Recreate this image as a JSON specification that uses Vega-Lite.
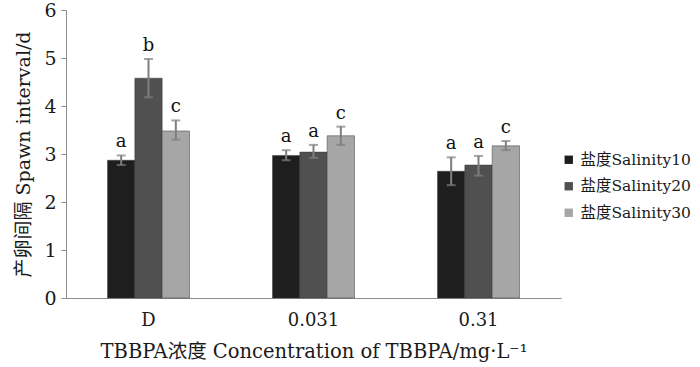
{
  "$schema": "https://vega.github.io/schema/vega-lite/v6.json",
  "autosize": "none",
  "width": 495,
  "height": 288,
  "padding": {"left": 66, "top": 10, "right": 139, "bottom": 69},
  "config": {
    "font": "DejaVu Serif, Noto Sans CJK SC",
    "view": {"stroke": null},
    "axis": {"grid": false, "domainColor": "#8c8c8c", "tickColor": "#8c8c8c", "labelColor": "#1a1a1a", "titleColor": "#1a1a1a", "labelFont": "DejaVu Serif", "titleFont": "DejaVu Serif, Noto Sans CJK SC", "titleFontWeight": "normal"},
    "legend": {"labelFont": "DejaVu Serif, Noto Sans CJK SC"},
    "text": {"font": "DejaVu Serif"}
  },
  "data": {
    "values": [
      {"conc": "D", "salinity": "盐度Salinity10", "mean": 2.87, "lo": 2.77, "hi": 2.97, "letter": "a"},
      {"conc": "D", "salinity": "盐度Salinity20", "mean": 4.58, "lo": 4.18, "hi": 4.98, "letter": "b"},
      {"conc": "D", "salinity": "盐度Salinity30", "mean": 3.48, "lo": 3.3, "hi": 3.7, "letter": "c"},
      {"conc": "0.031", "salinity": "盐度Salinity10", "mean": 2.97, "lo": 2.87, "hi": 3.08, "letter": "a"},
      {"conc": "0.031", "salinity": "盐度Salinity20", "mean": 3.04, "lo": 2.92, "hi": 3.19, "letter": "a"},
      {"conc": "0.031", "salinity": "盐度Salinity30", "mean": 3.38, "lo": 3.19, "hi": 3.57, "letter": "c"},
      {"conc": "0.31", "salinity": "盐度Salinity10", "mean": 2.64, "lo": 2.35, "hi": 2.93, "letter": "a"},
      {"conc": "0.31", "salinity": "盐度Salinity20", "mean": 2.77, "lo": 2.55, "hi": 2.96, "letter": "a"},
      {"conc": "0.31", "salinity": "盐度Salinity30", "mean": 3.17, "lo": 3.08, "hi": 3.27, "letter": "c"}
    ]
  },
  "encoding": {
    "x": {
      "field": "conc", "type": "nominal", "sort": ["D", "0.031", "0.31"],
      "scale": {"paddingInner": 0.503, "paddingOuter": 0.2515},
      "axis": {"labelAngle": 0, "labelFontSize": 18, "labelPadding": 13, "ticks": false,
        "title": "TBBPA浓度 Concentration of TBBPA/mg·L⁻¹", "titleFontSize": 19.5, "titlePadding": 13}
    },
    "xOffset": {"field": "salinity", "type": "nominal", "scale": {"paddingInner": 0, "paddingOuter": 0}}
  },
  "layer": [
    {
      "mark": {"type": "bar", "stroke": "#3a3a3a", "strokeWidth": 0.5},
      "encoding": {
        "y": {"field": "mean", "type": "quantitative",
          "scale": {"domain": [0, 6]},
          "axis": {"values": [0, 1, 2, 3, 4, 5, 6], "tickSize": 5, "labelFontSize": 19, "labelPadding": 5,
            "title": "产卵间隔 Spawn interval/d", "titleFontSize": 19, "titlePadding": 10}},
        "color": {"field": "salinity", "type": "nominal",
          "scale": {"range": ["#1e1e1e", "#505050", "#a6a6a6"]},
          "legend": {"title": null, "orient": "none", "legendX": 495, "legendY": 142, "symbolType": "square", "symbolSize": 70, "symbolStrokeWidth": 0, "labelFontSize": 15.5, "rowPadding": 9.5, "labelColor": "#1a1a1a"}}
      }
    },
    {
      "mark": {"type": "rule", "color": "#7f7f7f", "strokeWidth": 2},
      "encoding": {"y": {"field": "lo", "type": "quantitative"}, "y2": {"field": "hi"}}
    },
    {
      "mark": {"type": "tick", "color": "#7f7f7f", "thickness": 2, "size": 9, "orient": "horizontal"},
      "encoding": {"y": {"field": "lo", "type": "quantitative"}}
    },
    {
      "mark": {"type": "tick", "color": "#7f7f7f", "thickness": 2, "size": 9, "orient": "horizontal"},
      "encoding": {"y": {"field": "hi", "type": "quantitative"}}
    },
    {
      "mark": {"type": "text", "fontSize": 18, "baseline": "bottom", "dy": -4, "color": "#111111"},
      "encoding": {"y": {"field": "hi", "type": "quantitative"}, "text": {"field": "letter"}}
    }
  ]
}
